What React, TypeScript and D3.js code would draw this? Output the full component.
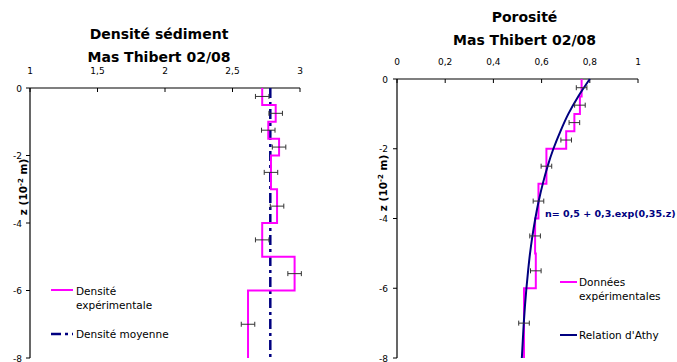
import React from "react";
import * as d3 from "d3";

// ---- Data ----
const stepBounds = [0, -0.5, -1, -1.5, -2, -3, -4, -5, -6, -8];
const densityValues = [2.72, 2.82, 2.765, 2.845, 2.785, 2.83, 2.72, 2.96, 2.615];
const densityMean = 2.78;
const densityErr = 0.05;
const sampleDepths = [-0.25, -0.75, -1.25, -1.75, -2.5, -3.5, -4.5, -5.5, -7];
const porosityValues = [0.766, 0.759, 0.736, 0.702, 0.62, 0.587, 0.573, 0.576, 0.527];
const porosityErr = 0.022;
const athyDepths = [0, -0.5, -1, -1.5, -2, -2.5, -3, -3.5, -4, -4.5, -5, -5.5, -6, -6.5, -7, -7.5, -8];
const athyValues = [0.8, 0.752, 0.711, 0.678, 0.649, 0.625, 0.605, 0.588, 0.574, 0.562, 0.552, 0.544, 0.537, 0.531, 0.526, 0.522, 0.518];
const densityTicks = [1, 1.5, 2, 2.5, 3];
const porosityTicks = [0, 0.2, 0.4, 0.6, 0.8, 1];
const depthTicks = [0, -2, -4, -6, -8];

const FONT = "'DejaVu Sans', Verdana, sans-serif";
const MAGENTA = "#FF00FF";
const NAVY = "#000080";
const fmt = (v: number) => String(v).replace(".", ",");

function stepPath(x: d3.ScaleLinear<number, number>, y: d3.ScaleLinear<number, number>, vals: number[]) {
  const pts: [number, number][] = [];
  vals.forEach((v, i) => {
    pts.push([x(v), y(stepBounds[i])]);
    pts.push([x(v), y(stepBounds[i + 1])]);
  });
  return d3.line()(pts) as string;
}

function Axes({ x, y, xTicks, labelY, depthLabelX, titleX, titleY }: any) {
  const [x0, x1] = x.range();
  const [y0, y1] = y.range();
  return (
    <g fontFamily={FONT}>
      <line x1={x0} x2={x1} y1={y0} y2={y0} stroke="#000" strokeWidth={1.2} />
      <line x1={x0} x2={x0} y1={y0} y2={y1} stroke="#000" strokeWidth={1.2} />
      {xTicks.map((t: number) => (
        <g key={"xt" + t}>
          <line x1={x(t)} x2={x(t)} y1={y0} y2={y0 + 4} stroke="#000" />
          <text x={x(t)} y={labelY} fontSize={9} textAnchor="middle">{fmt(t)}</text>
        </g>
      ))}
      {depthTicks.map((t) => (
        <g key={"yt" + t}>
          <line x1={x0 - 4} x2={x0} y1={y(t)} y2={y(t)} stroke="#000" />
          <text x={depthLabelX} y={y(t) + 3.5} fontSize={9} textAnchor="end">{t === 0 ? "0" : "-" + Math.abs(t)}</text>
        </g>
      ))}
      <text transform={`translate(${titleX},${titleY}) rotate(-90)`} fontSize={10.5} fontWeight="bold" textAnchor="middle">
        z (10<tspan dy={-4} fontSize={7}>-2</tspan><tspan dy={4}> m)</tspan>
      </text>
    </g>
  );
}

function ErrorBars({ x, y, vals, err }: any) {
  return (
    <g stroke="#333" strokeWidth={1}>
      {vals.map((v: number, i: number) => {
        const yy = y(sampleDepths[i]);
        return (
          <g key={i}>
            <line x1={x(v - err)} x2={x(v + err)} y1={yy} y2={yy} />
            <line x1={x(v - err)} x2={x(v - err)} y1={yy - 2.5} y2={yy + 2.5} />
            <line x1={x(v + err)} x2={x(v + err)} y1={yy - 2.5} y2={yy + 2.5} />
          </g>
        );
      })}
    </g>
  );
}

export default function App() {
  const xD = d3.scaleLinear().domain([1, 3]).range([30, 300]);
  const yD = d3.scaleLinear().domain([0, -8]).range([88, 358]);
  const xP = d3.scaleLinear().domain([0, 1]).range([397, 638]);
  const yP = d3.scaleLinear().domain([0, -8]).range([79, 358]);

  const athyLine = d3
    .line<number>()
    .x((v) => xP(v))
    .y((_, i) => yP(athyDepths[i]))
    .curve(d3.curveMonotoneY)(athyValues) as string;

  return (
    <svg width={677} height={362} style={{ position: "absolute", left: 0, top: 0, background: "#fff" }}>
      <rect width={677} height={362} fill="#fff" />
      {/* Left chart */}
      <g fontFamily={FONT} fontWeight="bold" fontSize={14} textAnchor="middle">
        <text x={159} y={39}>Densité sédiment</text>
        <text x={159} y={62}>Mas Thibert 02/08</text>
      </g>
      <Axes x={xD} y={yD} xTicks={densityTicks} labelY={74} depthLabelX={22} titleX={27} titleY={187} />
      <line x1={xD(densityMean)} x2={xD(densityMean)} y1={yD(0)} y2={yD(-8)} stroke={NAVY} strokeWidth={2.5} strokeDasharray="10,4,3,4" />
      <path d={stepPath(xD, yD, densityValues)} fill="none" stroke={MAGENTA} strokeWidth={2} />
      <ErrorBars x={xD} y={yD} vals={densityValues} err={densityErr} />
      <g fontFamily={FONT} fontSize={10.5}>
        <line x1={51} x2={73} y1={290} y2={290} stroke={MAGENTA} strokeWidth={2} />
        <text x={76} y={295}>Densité</text>
        <text x={76} y={309}>expérimentale</text>
        <line x1={51} x2={73} y1={334} y2={334} stroke={NAVY} strokeWidth={2.5} strokeDasharray="10,4,3,4" />
        <text x={76} y={338}>Densité moyenne</text>
      </g>

      {/* Right chart */}
      <g fontFamily={FONT} fontWeight="bold" fontSize={14} textAnchor="middle">
        <text x={524.5} y={22}>Porosité</text>
        <text x={524.5} y={44.5}>Mas Thibert 02/08</text>
      </g>
      <Axes x={xP} y={yP} xTicks={porosityTicks} labelY={64.5} depthLabelX={388} titleX={387} titleY={183} />
      <path d={stepPath(xP, yP, porosityValues)} fill="none" stroke={MAGENTA} strokeWidth={2} />
      <path d={athyLine} fill="none" stroke={NAVY} strokeWidth={2} />
      <ErrorBars x={xP} y={yP} vals={porosityValues} err={porosityErr} />
      <text x={545} y={217} fontFamily={FONT} fontSize={9.5} fontWeight="bold" fill={NAVY}>n= 0,5 + 0,3.exp(0,35.z)</text>
      <g fontFamily={FONT} fontSize={10.5}>
        <line x1={560} x2={577} y1={282} y2={282} stroke={MAGENTA} strokeWidth={2} />
        <text x={579} y={286}>Données</text>
        <text x={579} y={300}>expérimentales</text>
        <line x1={560} x2={577} y1={335} y2={335} stroke={NAVY} strokeWidth={2} />
        <text x={579} y={339}>Relation d'Athy</text>
      </g>
    </svg>
  );
}
